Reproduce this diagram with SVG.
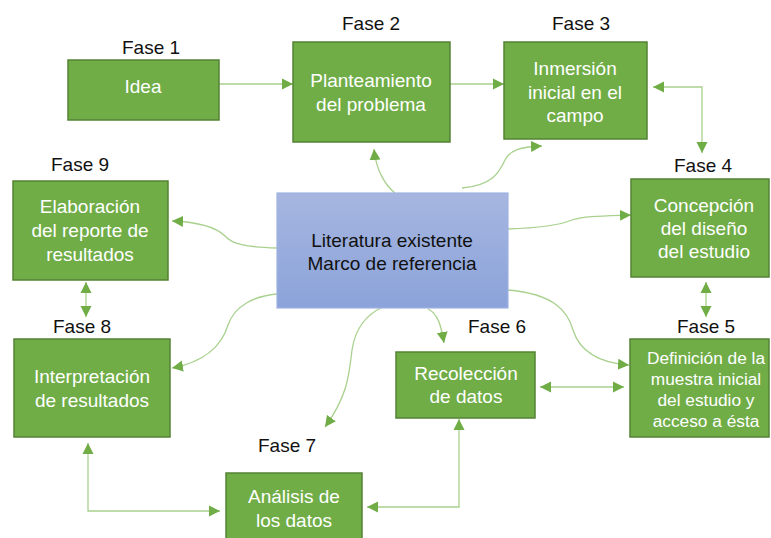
<svg xmlns="http://www.w3.org/2000/svg" width="771" height="538" viewBox="0 0 771 538">
<style>
.box{fill:#70AD47;stroke:#548235;stroke-width:1.5}
.t{font-family:"Liberation Sans",Arial,sans-serif;font-size:19px;fill:#ffffff;text-anchor:middle}
.t5{font-family:"Liberation Sans",Arial,sans-serif;font-size:17.3px;fill:#ffffff;text-anchor:middle}
.f{font-family:"Liberation Sans",Arial,sans-serif;font-size:19px;fill:#111111;text-anchor:middle}
.c{fill:none;stroke:#A9D18E;stroke-width:1.3}
</style>
<defs>
<linearGradient id="bg" x1="0" y1="0" x2="0" y2="1">
<stop offset="0" stop-color="#A6B6E0"/>
<stop offset="1" stop-color="#8BA3DA"/>
</linearGradient>
<marker id="ah" markerUnits="userSpaceOnUse" markerWidth="12" markerHeight="12" refX="11" refY="5.5" orient="auto-start-reverse" viewBox="0 0 12 11">
<path d="M0,0 L11,5.5 L0,11 z" fill="#70AD47"/>
</marker>
</defs>
<rect width="771" height="538" fill="#ffffff"/>
<g id="connectors">
<path class="c" d="M219 84 H293" marker-end="url(#ah)"/>
<path class="c" d="M450 84 H504" marker-end="url(#ah)"/>
<path class="c" d="M653 87 H702 V153" marker-start="url(#ah)" marker-end="url(#ah)"/>
<path class="c" d="M706 282 V317" marker-start="url(#ah)" marker-end="url(#ah)"/>
<path class="c" d="M540 387 H624" marker-start="url(#ah)" marker-end="url(#ah)"/>
<path class="c" d="M367 507 H459 V419" marker-start="url(#ah)" marker-end="url(#ah)"/>
<path class="c" d="M88 443 V511 H220" marker-start="url(#ah)" marker-end="url(#ah)"/>
<path class="c" d="M86 282 V317" marker-start="url(#ah)" marker-end="url(#ah)"/>
<path class="c" d="M395 193 C385 185 376 170 374 149" marker-end="url(#ah)"/>
<path class="c" d="M462 188 C495 185 500 170 505 160 C510 150 520 147 542 146" marker-end="url(#ah)"/>
<path class="c" d="M508 229 C540 228 560 225 572 220 C585 216 600 216 631 215" marker-end="url(#ah)"/>
<path class="c" d="M508 290 C555 294 568 312 573 330 C580 352 600 363 629 365" marker-end="url(#ah)"/>
<path class="c" d="M428 309 C438 314 441 325 444 343" marker-end="url(#ah)"/>
<path class="c" d="M383 307 C365 315 355 330 352 350 C349 375 348 395 325 427" marker-end="url(#ah)"/>
<path class="c" d="M277 294 C255 296 235 305 228 325 C222 345 205 362 172 368" marker-end="url(#ah)"/>
<path class="c" d="M277 248 C245 247 232 244 225 236 C215 226 195 222 172 221" marker-end="url(#ah)"/>
</g>
<g id="lit">
<rect x="277" y="193" width="231" height="115" fill="url(#bg)" stroke="#9FB3E2" stroke-width="1.2"/>
<text class="f" x="392" y="247">Literatura existente</text>
<text class="f" x="392" y="270">Marco de referencia</text>
</g>
<g id="fase1">
<text class="f" x="151" y="54">Fase 1</text>
<rect class="box" x="68" y="60" width="151" height="60"/>
<text class="t" x="143" y="93">Idea</text>
</g>
<g id="fase2">
<text class="f" x="371" y="30">Fase 2</text>
<rect class="box" x="293" y="42" width="157" height="100"/>
<text class="t" x="371" y="87">Planteamiento</text>
<text class="t" x="371" y="111">del problema</text>
</g>
<g id="fase3">
<text class="f" x="581" y="30">Fase 3</text>
<rect class="box" x="504" y="42" width="143" height="97"/>
<text class="t" x="575" y="75">Inmersión</text>
<text class="t" x="575" y="99">inicial en el</text>
<text class="t" x="575" y="122">campo</text>
</g>
<g id="fase4">
<text class="f" x="703" y="172">Fase 4</text>
<rect class="box" x="631" y="179" width="138" height="98"/>
<text class="t" x="704" y="212">Concepción</text>
<text class="t" x="704" y="235">del diseño</text>
<text class="t" x="704" y="258">del estudio</text>
</g>
<g id="fase5">
<text class="f" x="706" y="333">Fase 5</text>
<rect class="box" x="630" y="339" width="139" height="98"/>
<text class="t5" x="706" y="364">Definición de la</text>
<text class="t5" x="706" y="385">muestra inicial</text>
<text class="t5" x="706" y="406">del estudio y</text>
<text class="t5" x="706" y="427">acceso a ésta</text>
</g>
<g id="fase6">
<text class="f" x="497" y="333">Fase 6</text>
<rect class="box" x="396" y="352" width="139" height="66"/>
<text class="t" x="466" y="380">Recolección</text>
<text class="t" x="466" y="403">de datos</text>
</g>
<g id="fase7">
<text class="f" x="287" y="452">Fase 7</text>
<rect class="box" x="226" y="473" width="136" height="70"/>
<text class="t" x="294" y="503">Análisis de</text>
<text class="t" x="294" y="527">los datos</text>
</g>
<g id="fase8">
<text class="f" x="82" y="333">Fase 8</text>
<rect class="box" x="14" y="339" width="156" height="98"/>
<text class="t" x="92" y="383">Interpretación</text>
<text class="t" x="92" y="407">de resultados</text>
</g>
<g id="fase9">
<text class="f" x="80" y="171">Fase 9</text>
<rect class="box" x="13" y="181" width="155" height="99"/>
<text class="t" x="90" y="213">Elaboración</text>
<text class="t" x="90" y="237">del reporte de</text>
<text class="t" x="90" y="261">resultados</text>
</g>
</svg>
